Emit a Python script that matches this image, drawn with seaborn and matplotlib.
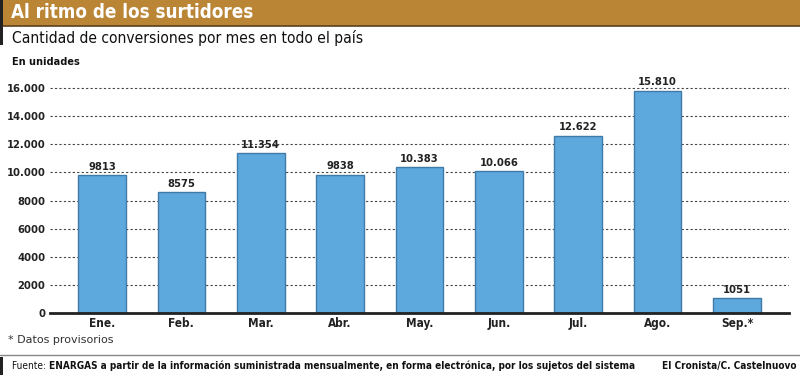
import pandas as pd
import matplotlib.pyplot as plt
import seaborn as sns
from matplotlib.patches import Rectangle
from matplotlib.lines import Line2D

# Datos
meses = ['Ene.', 'Feb.', 'Mar.', 'Abr.', 'May.', 'Jun.', 'Jul.', 'Ago.', 'Sep.*']
conversiones = [9813, 8575, 11354, 9838, 10383, 10066, 12622, 15810, 1051]
etiquetas = ['9813', '8575', '11.354', '9838', '10.383', '10.066', '12.622', '15.810', '1051']
yticks = [0, 2000, 4000, 6000, 8000, 10000, 12000, 14000, 16000]
ytick_labels = ['0', '2000', '4000', '6000', '8000', '10.000', '12.000', '14.000', '16.000']

df = pd.DataFrame({'mes': meses, 'valor': conversiones})

sns.set_style('white')
plt.rcParams['font.family'] = ['Liberation Sans Narrow', 'DejaVu Sans']
plt.rcParams['font.stretch'] = 'condensed'

fig = plt.figure(figsize=(8, 3.75), dpi=100)
ax = fig.add_axes([50.4 / 800, 1 - 313 / 375, (788.6 - 50.4) / 800, (313 - 76.8) / 375])

sns.barplot(data=df, x='mes', y='valor', color='#5DA9DE', width=0.6,
            edgecolor='#3F7BA6', linewidth=1, saturation=1, ax=ax, zorder=3)

ax.set_xlim(-0.65, 8.65)
ax.set_ylim(0, 16800)
ax.set_yticks(yticks)
ax.set_yticklabels(ytick_labels, fontsize=8, fontweight='bold', color='#222222')
ax.tick_params(axis='x', labelsize=8.5, length=0, pad=3)
ax.tick_params(axis='y', length=0, pad=3.5)
for lbl in ax.get_xticklabels():
    lbl.set_fontweight('bold')
    lbl.set_color('#222222')
ax.set_xlabel('')
ax.set_ylabel('')
ax.grid(axis='y', linestyle=(0, (2, 2)), color='#444444', linewidth=0.8, zorder=0)
ax.grid(axis='x', visible=False)
for s in ['top', 'right', 'left']:
    ax.spines[s].set_visible(False)
ax.spines['bottom'].set_color('#222222')
ax.spines['bottom'].set_linewidth(2)
ax.spines['bottom'].set_zorder(4)

for i, (v, t) in enumerate(zip(conversiones, etiquetas)):
    ax.text(i, v + 250, t, ha='center', va='bottom', fontsize=8,
            fontweight='bold', color='#222222', zorder=5)

# Barra de título
fig.patches.append(Rectangle((0, 1 - 26 / 375), 1, 26 / 375, transform=fig.transFigure,
                             facecolor='#BA8535', edgecolor='none', zorder=1))
fig.add_artist(Line2D([0, 1], [1 - 26 / 375, 1 - 26 / 375], color='#5a4020', linewidth=1.2))
fig.patches.append(Rectangle((0, 1 - 45 / 375), 3 / 800, 45 / 375, transform=fig.transFigure,
                             facecolor='#222222', edgecolor='none', zorder=2))
fig.text(11 / 800, 1 - 13 / 375, 'Al ritmo de los surtidores', fontsize=13.5, fontweight='bold',
         color='white', va='center', ha='left')
fig.text(12 / 800, 1 - 38 / 375, 'Cantidad de conversiones por mes en todo el país',
         fontsize=11.2, color='#111111', va='center', ha='left')
fig.text(12 / 800, 1 - 62 / 375, 'En unidades', fontsize=7.8, fontweight='bold',
         color='#111111', va='center', ha='left')

fig.text(8 / 800, 1 - 340 / 375, '* Datos provisorios', fontsize=8, color='#333333',
         va='center', ha='left', stretch='normal')

# Pie
fig.add_artist(Line2D([0, 1], [1 - 355 / 375, 1 - 355 / 375], color='#888888', linewidth=1))
fig.patches.append(Rectangle((0, 0), 3 / 800, 18 / 375, transform=fig.transFigure,
                             facecolor='#222222', edgecolor='none', zorder=2))
fuente = fig.text(12 / 800, 1 - 366 / 375, 'Fuente: ', fontsize=7.2, color='#111111',
                  va='center', ha='left')
fig.canvas.draw()
bb = fuente.get_window_extent()
fig.text(bb.x1 / 800, 1 - 366 / 375,
         'ENARGAS a partir de la información suministrada mensualmente, en forma electrónica, por los sujetos del sistema',
         fontsize=7.2, fontweight='bold', color='#111111', va='center', ha='left')
fig.text(796 / 800, 1 - 366 / 375, 'El Cronista/C. Castelnuovo', fontsize=7.2,
         fontweight='bold', color='#111111', va='center', ha='right')

fig.savefig('out.png', dpi=100)
